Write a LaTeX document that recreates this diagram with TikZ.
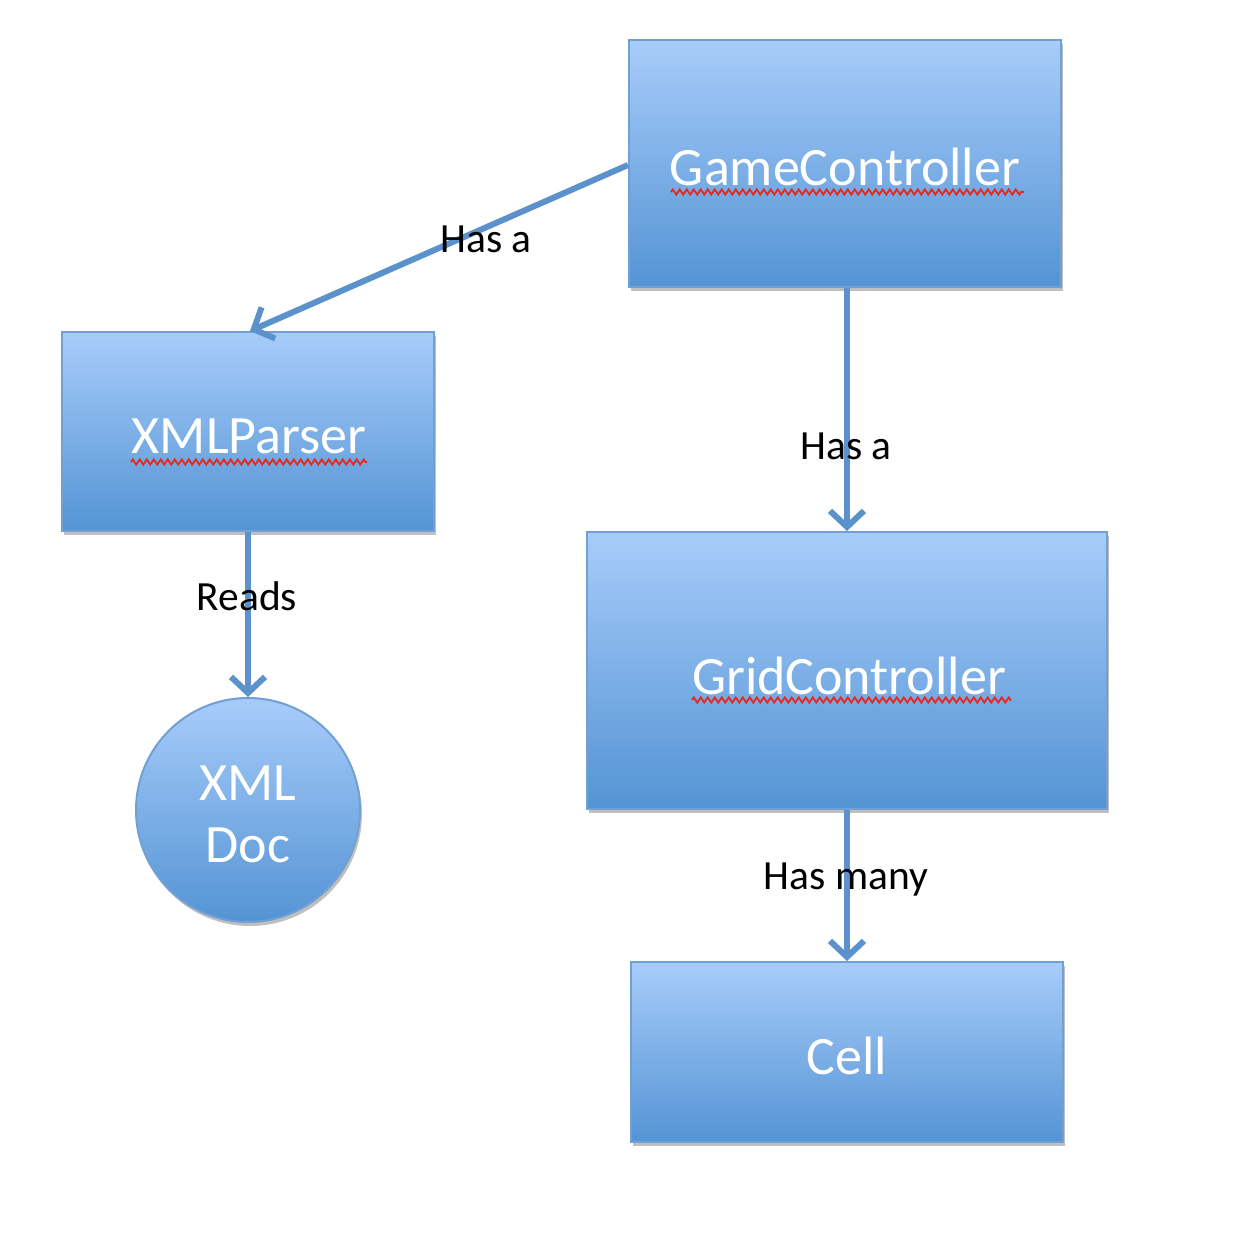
\documentclass[tikz,border=0pt]{standalone}
\usepackage{fontspec}
\setmainfont{Carlito}
\usetikzlibrary{arrows.meta,shadows,decorations.pathmorphing}
\definecolor{boxtop}{RGB}{168,204,250}
\definecolor{boxbot}{RGB}{84,148,212}
\definecolor{boxline}{RGB}{112,160,212}
\definecolor{arrowc}{RGB}{92,146,204}
\definecolor{squig}{RGB}{230,40,30}
\tikzset{
  box/.style={rectangle, draw=boxline, line width=2pt, top color=boxtop, bottom color=boxbot,
    inner sep=0pt,
    drop shadow={shadow xshift=2pt, shadow yshift=-4pt, opacity=0.25, fill=black}},
  roundbox/.style={circle, draw=boxline, line width=2pt, top color=boxtop, bottom color=boxbot,
    inner sep=0pt,
    drop shadow={shadow xshift=2pt, shadow yshift=-4pt, opacity=0.25, fill=black}},
  btext/.style={text=white, font=\fontsize{54}{62}\selectfont, align=center, inner sep=0pt},
  link/.style={draw=arrowc, line width=6pt, -{Straight Barb[length=16pt,width=34pt,line width=6pt]}},
  lbl/.style={font=\fontsize{41.5}{48}\selectfont, text=black, inner sep=0pt},
  spell/.style={draw=squig, line width=1.8pt, decorate, decoration={zigzag, amplitude=2.6pt, segment length=7pt}}
}
\begin{document}
\begin{tikzpicture}[x=1pt,y=-1pt]
\useasboundingbox (0,0) rectangle (1234,1240);
\fill[white] (0,0) rectangle (1234,1240);

\node[box, minimum width=432pt, minimum height=247pt] (gc) at (845,163.5) {};
\node[box, minimum width=372pt, minimum height=199pt] (xp) at (248,431.5) {};
\node[box, minimum width=520pt, minimum height=277pt] (grid) at (847,670.5) {};
\node[box, minimum width=432pt, minimum height=180pt] (cell) at (847,1052) {};
\node[roundbox, minimum size=224pt] (doc) at (248,810) {};

\node[btext] (gct) at (845,167) {GameController};
\node[btext] (xpt) at (249,436) {XMLParser};
\node[btext] (gridt) at (849,676) {GridController};
\node[btext] (cellt) at (847,1056) {Cell};
\node[btext] (doct) at (248,814) {XML\\Doc};

\coordinate (s1a) at (671,192); \coordinate (s1b) at (1024,192);
\coordinate (s2a) at (131,462); \coordinate (s2b) at (367,462);
\coordinate (s3a) at (692,700); \coordinate (s3b) at (1011,700);
\path[spell] (s1a) -- (s1b);
\path[spell] (s2a) -- (s2b);
\path[spell] (s3a) -- (s3b);

\coordinate (gcL) at (628,165);
\coordinate (xpT) at (250,331);
\draw[link] (gcL) -- (xpT);
\draw[link] (gc.south -| grid.north) -- (grid.north);
\draw[link] (xp.south) -- (doc.north);
\draw[link] (grid.south) -- (cell.north);

\node[lbl] (l1) at (486,239) {Has a};
\node[lbl] (l2) at (846,446) {Has a};
\node[lbl] (l3) at (247,596) {Reads};
\node[lbl] (l4) at (846,880) {Has many};
\end{tikzpicture}
\end{document}
